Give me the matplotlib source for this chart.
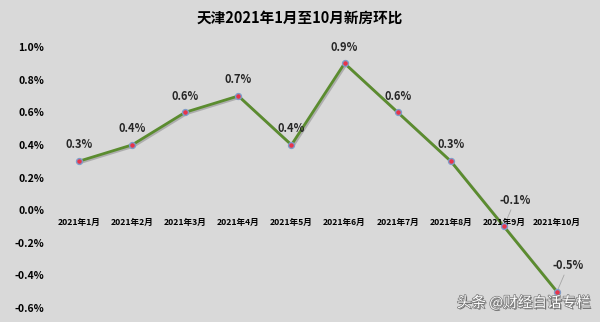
import matplotlib
matplotlib.use("Agg")
import matplotlib.pyplot as plt
import matplotlib.patheffects as pe

plt.rcParams['font.family'] = ['Noto Sans CJK SC', 'DejaVu Sans']

months = ["2021年1月", "2021年2月", "2021年3月", "2021年4月", "2021年5月",
          "2021年6月", "2021年7月", "2021年8月", "2021年9月", "2021年10月"]
values = [0.3, 0.4, 0.6, 0.7, 0.4, 0.9, 0.6, 0.3, -0.1, -0.5]
yticks = [-0.6, -0.4, -0.2, 0.0, 0.2, 0.4, 0.6, 0.8, 1.0]
title = "天津2021年1月至10月新房环比"
watermark = "头条 @财经白话专栏"

bg = "#d9d9d9"
fig = plt.figure(figsize=(6, 3.22), dpi=100, facecolor=bg)
ax = fig.add_axes([0.0875, 0.0435, 0.885, 0.8105], facecolor=bg)

x = list(range(len(months)))
ax.plot(x, values, color="#5b8c2f", lw=2.0, zorder=3,
        path_effects=[pe.SimpleLineShadow(offset=(1, -1), alpha=0.2), pe.Normal()])
ax.scatter(x, values, s=18, color="#e8344a", edgecolors="#7f9cc8", linewidths=1.0, zorder=4)

for i, v in enumerate(values):
    if v < 0:
        ax.annotate(f"{v:.1f}%", xy=(i, v), xytext=(8, 14), textcoords="offset points",
                    ha="center", va="bottom", fontsize=8, fontweight="semibold", color="#262626",
                    arrowprops=dict(arrowstyle="-", color="#a6a6a6", lw=0.6, shrinkA=0, shrinkB=2))
    else:
        ax.annotate(f"{v:.1f}%", xy=(i, v), xytext=(0, 7), textcoords="offset points",
                    ha="center", va="bottom", fontsize=8, fontweight="semibold", color="#262626")

ax.set_xlim(-0.5, len(months) - 0.5)
ax.set_ylim(-0.6, 1.0)
ax.set_yticks(yticks)
ax.set_yticklabels([f"{t:.1f}%" for t in yticks], fontsize=7.5, fontweight="bold")
ax.set_xticks([])
for i, m in enumerate(months):
    ax.text(i, -0.045, m, ha="center", va="top", fontsize=6.2, fontweight="bold")

for s in ax.spines.values():
    s.set_visible(False)
ax.tick_params(axis="y", length=0, pad=6)

fig.text(0.5, 0.945, title, ha="center", va="center", fontsize=10.5, fontweight="bold")
fig.text(0.985, 0.06, watermark, ha="right", va="center", fontsize=10.5, color="white",
         path_effects=[pe.withSimplePatchShadow(offset=(1, -1), shadow_rgbFace="#555555", alpha=0.8),
                       pe.withStroke(linewidth=1.0, foreground="#777777")])

fig.savefig("out.png", dpi=100, facecolor=bg)
